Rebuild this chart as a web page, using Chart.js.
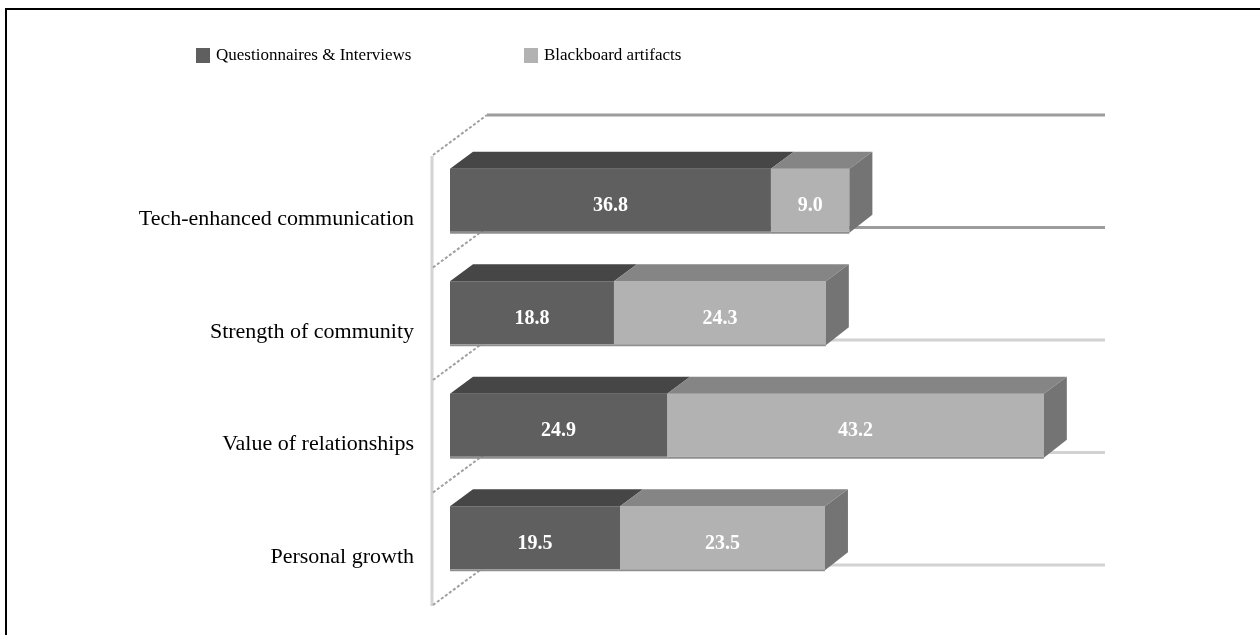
<!DOCTYPE html>
<html>
<head>
<meta charset="utf-8">
<script src="https://cdn.jsdelivr.net/npm/chart.js@4.4.0/dist/chart.umd.min.js"></script>
<style>
  html, body { margin: 0; padding: 0; background: #fff; }
  #wrap { position: relative; width: 1260px; height: 635px; overflow: hidden; }
  #cadre { position: absolute; left: 5px; top: 8px; width: 1300px; height: 700px; border-left: 2px solid #000; border-top: 2px solid #000; pointer-events: none; }
  canvas { position: absolute; left: 0; top: 0; }
</style>
</head>
<body>
<div id="wrap">
  <canvas id="graphique" width="1260" height="635"></canvas>
  <div id="cadre"></div>
</div>
<script>
const categories = ["Tech-enhanced communication", "Strength of community", "Value of relationships", "Personal growth"];
const seriesLabels = ["Questionnaires & Interviews", "Blackboard artifacts"];
const questionnaires = [36.8, 18.8, 24.9, 19.5];
const blackboard = [9.0, 24.3, 43.2, 23.5];
const axisMax = 75;

// profondeur de l'effet 3D
const DX = 23, DY = 17;
const police = "'Liberation Serif', 'Times New Roman', serif";

// mur du fond + lignes de grille
const fond = {
    id: 'fond',
    beforeDatasetsDraw(chart) {
        const ctx = chart.ctx, a = chart.chartArea;
        const n = categories.length, h = (a.bottom - a.top) / n;
        ctx.save();
        ctx.strokeStyle = '#d4d4d4';
        ctx.lineWidth = 3;
        ctx.beginPath();
        ctx.moveTo(a.left - 18, a.top + 12);
        ctx.lineTo(a.left - 18, a.bottom + 12);
        ctx.stroke();
        for (let i = 0; i <= n; i++) {
            const b = a.top + i * h;
            ctx.setLineDash([]);
            ctx.lineWidth = 3;
            ctx.strokeStyle = i < 2 ? '#9c9c9c' : '#d2d2d2';
            ctx.beginPath();
            ctx.moveTo(a.left + 37, b - 29);
            ctx.lineTo(a.right + 1, b - 29);
            ctx.stroke();
            ctx.lineWidth = 2;
            ctx.strokeStyle = '#a0a0a0';
            ctx.setLineDash([3, 2]);
            ctx.beginPath();
            ctx.moveTo(a.left - 17, b + 11);
            ctx.lineTo(a.left + 37, b - 29);
            ctx.stroke();
        }
        ctx.restore();
    }
};

// faces du dessus / côté + valeurs
const relief = {
    id: 'relief',
    afterDatasetsDraw(chart) {
        const ctx = chart.ctx;
        const last = chart.data.datasets.length - 1;
        ctx.save();
        chart.data.datasets.forEach((ds, di) => {
            chart.getDatasetMeta(di).data.forEach((bar, i) => {
                const { x, y, base, height } = bar.getProps(['x', 'y', 'base', 'height'], true);
                const top = y - height / 2, bottom = y + height / 2;
                ctx.fillStyle = ds.topColor;
                ctx.beginPath();
                ctx.moveTo(base, top);
                ctx.lineTo(x, top);
                ctx.lineTo(x + DX, top - DY);
                ctx.lineTo(base + DX, top - DY);
                ctx.closePath();
                ctx.fill();
                ctx.fillStyle = '#8e8e8e';
                ctx.fillRect(base, bottom, x - base, 2);
                if (di === last) {
                    ctx.fillStyle = ds.sideColor;
                    ctx.beginPath();
                    ctx.moveTo(x, top);
                    ctx.lineTo(x + DX, top - DY);
                    ctx.lineTo(x + DX, bottom - DY);
                    ctx.lineTo(x, bottom + 1);
                    ctx.closePath();
                    ctx.fill();
                }
                ctx.fillStyle = '#fff';
                ctx.font = "bold 20px " + police;
                ctx.textAlign = 'center';
                ctx.textBaseline = 'middle';
                ctx.fillText(ds.data[i].toFixed(1), (x + base) / 2, y + 6);
            });
        });
        ctx.restore();
    }
};

// légende en haut à gauche
const legende = {
    id: 'legende',
    afterDraw(chart) {
        const ctx = chart.ctx;
        const pos = [196, 524];
        ctx.save();
        ctx.font = "17px " + police;
        ctx.textBaseline = 'middle';
        ctx.textAlign = 'left';
        chart.data.datasets.forEach((ds, di) => {
            ctx.fillStyle = ds.backgroundColor;
            ctx.fillRect(pos[di], 48, 14, 15);
            ctx.fillStyle = '#000';
            ctx.fillText(ds.label, pos[di] + 20, 56);
        });
        ctx.restore();
    }
};

new Chart(document.getElementById('graphique'), {
    type: 'bar',
    data: {
        labels: categories,
        datasets: [
            { label: seriesLabels[0], data: questionnaires, backgroundColor: '#5f5f5f', topColor: '#464646', sideColor: '#747474' },
            { label: seriesLabels[1], data: blackboard, backgroundColor: '#b2b2b2', topColor: '#858585', sideColor: '#747474' }
        ]
    },
    options: {
        indexAxis: 'y',
        responsive: false,
        animation: false,
        layout: { padding: { top: 144, bottom: 41, left: 0, right: 156 } },
        datasets: { bar: { barPercentage: 0.56, categoryPercentage: 1, borderWidth: 0 } },
        plugins: { legend: { display: false }, tooltip: { enabled: false } },
        scales: {
            x: { stacked: true, min: 0, max: axisMax, display: false },
            y: {
                stacked: true,
                afterFit: s => { s.width = 450; s.paddingTop = 0; s.paddingBottom = 0; },
                grid: { display: false, drawTicks: false },
                border: { display: false },
                ticks: { padding: 36, labelOffset: 19, color: '#000', font: { family: police, size: 22 } }
            }
        }
    },
    plugins: [fond, relief, legende]
});
</script>
</body>
</html>
